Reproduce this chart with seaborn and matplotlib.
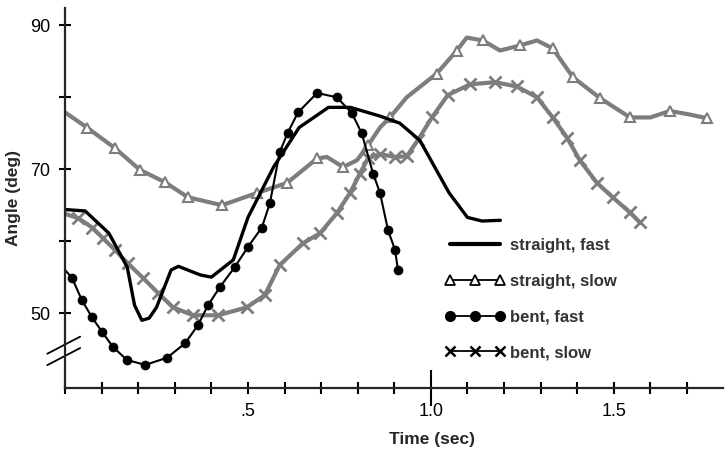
import numpy as np
import pandas as pd
import seaborn as sns
import matplotlib
matplotlib.use("Agg")
import matplotlib.pyplot as plt
from matplotlib.lines import Line2D
from matplotlib.ticker import MultipleLocator, FixedLocator

# values (time in sec, angle in deg)
sf_t = [0, 0.055, 0.12, 0.17, 0.19, 0.21, 0.23, 0.25, 0.29, 0.31, 0.37, 0.40, 0.46, 0.50,
        0.57, 0.64, 0.72, 0.78, 0.86, 0.915, 0.97, 1.005, 1.05, 1.10, 1.14, 1.19]
sf_a = [64.4, 64.2, 61.1, 56.4, 51.1, 49.0, 49.3, 50.8, 56.0, 56.5, 55.3, 55.0, 57.4, 63.3,
        70.3, 75.8, 78.6, 78.6, 77.4, 76.4, 74.0, 70.8, 66.7, 63.3, 62.8, 62.9]

ss_t = [0, 0.06, 0.137, 0.205, 0.273, 0.336, 0.429, 0.525, 0.607, 0.689, 0.716, 0.76, 0.798,
        0.828, 0.861, 0.888, 0.934, 1.016, 1.071, 1.098, 1.142, 1.189, 1.243, 1.29, 1.333,
        1.388, 1.462, 1.544, 1.60, 1.653, 1.708, 1.754]
ss_a = [77.9, 75.8, 72.9, 69.9, 68.2, 66.1, 65.0, 66.7, 68.1, 71.5, 71.7, 70.3, 71.25,
        73.3, 75.8, 77.2, 80.0, 83.3, 86.5, 88.3, 87.9, 86.5, 87.2, 87.9, 86.8,
        82.8, 79.9, 77.2, 77.2, 78.1, 77.6, 77.1]

bf_t = [0, 0.019, 0.046, 0.074, 0.101, 0.131, 0.169, 0.219, 0.279, 0.328, 0.363, 0.391, 0.423,
        0.464, 0.50, 0.538, 0.56, 0.587, 0.609, 0.637, 0.689, 0.743, 0.784, 0.811, 0.842,
        0.861, 0.883, 0.902, 0.91]
bf_a = [56.0, 54.9, 51.8, 49.4, 47.4, 45.3, 43.5, 42.8, 43.8, 45.8, 48.3, 51.1, 53.6,
        56.4, 59.2, 61.9, 65.3, 72.4, 75.1, 77.9, 80.6, 80.0, 77.8, 75.0, 69.4,
        66.7, 61.5, 58.8, 56.0]

bs_t = [0, 0.036, 0.074, 0.104, 0.137, 0.172, 0.213, 0.254, 0.295, 0.35, 0.418, 0.497, 0.546,
        0.587, 0.65, 0.697, 0.743, 0.779, 0.806, 0.828, 0.861, 0.902, 0.934, 0.964, 1.003,
        1.046, 1.107, 1.175, 1.235, 1.29, 1.333, 1.372, 1.407, 1.454, 1.497, 1.544, 1.571]
bs_a = [63.8, 63.2, 61.9, 60.4, 58.75, 56.9, 54.9, 52.8, 50.8, 49.7, 49.7, 50.8, 52.5,
        56.7, 59.7, 61.1, 63.9, 66.7, 69.4, 71.5, 72.1, 71.7, 71.8, 74.0, 77.2,
        80.3, 81.8, 82.1, 81.5, 80.0, 77.2, 74.4, 71.25, 68.1, 66.1, 64.0, 62.6]

labels = ["straight, fast", "straight, slow", "bent, fast", "bent, slow"]
x_ticks = [0.5, 1.0, 1.5]
x_ticklabels = [".5", "1.0", "1.5"]
y_ticks = [50, 70, 90]

gray = "#7d7d7d"

sns.set_style("ticks")
plt.rcParams['font.family'] = ['Liberation Sans', 'DejaVu Sans']

fig = plt.figure(figsize=(7.25, 4.49), dpi=100)
ax = fig.add_axes([0.0897, 0.136, 0.9073, 0.846])

# straight, slow  (gray, open triangles)
sns.lineplot(data=pd.DataFrame({"t": ss_t, "a": ss_a}), x="t", y="a", ax=ax, color=gray,
             lw=3, marker="^", ms=7, mfc="white", mec=gray, mew=1.5,
             markevery=[1, 2, 3, 4, 5, 6, 7, 8, 9, 11, 13, 15, 17, 18, 20, 22, 24, 25, 26, 27, 29, 31])
# bent, slow  (gray, crosses)
sns.lineplot(data=pd.DataFrame({"t": bs_t, "a": bs_a}), x="t", y="a", ax=ax, color=gray,
             lw=3, marker="x", ms=8, mec=gray, mew=2, markevery=slice(1, None))
# straight, fast (black solid)
sns.lineplot(data=pd.DataFrame({"t": sf_t, "a": sf_a}), x="t", y="a", ax=ax, color="black",
             lw=2.4)
# bent, fast (black, dots)
sns.lineplot(data=pd.DataFrame({"t": bf_t, "a": bf_a}), x="t", y="a", ax=ax, color="black",
             lw=1.5, marker="o", ms=6.5, mec="black", mfc="black", mew=0.5,
             markevery=slice(1, None))

ax.set_xlim(0, 1.798)
ax.set_ylim(39.6, 92.4)
sns.despine(ax=ax)
for s in ["left", "bottom"]:
    ax.spines[s].set_linewidth(1.6)

ax.xaxis.set_major_locator(FixedLocator(x_ticks))
ax.set_xticklabels(x_ticklabels)
ax.xaxis.set_minor_locator(MultipleLocator(0.1))
ax.yaxis.set_major_locator(FixedLocator(y_ticks))
ax.yaxis.set_minor_locator(FixedLocator([60, 80]))
ax.tick_params(which="both", direction="inout", width=1.5, colors="black",
               labelsize=13, pad=6)
ax.tick_params(which="major", length=9)
ax.tick_params(which="minor", length=8)
# the 1.0 tick is drawn long
ax.xaxis.get_major_ticks()[1].tick1line.set_markersize(26)

ax.set_xlabel("Time (sec)", fontsize=12.5, fontweight="bold")
ax.xaxis.set_label_coords((432 - 65) / 658, -0.115)
ax.set_ylabel("Angle (deg)", fontsize=12.5, fontweight="bold")
ax.yaxis.set_label_coords(-0.067, 0.5)

# axis break marks
for off in [0.0, -0.03]:
    ax.plot([-0.027, 0.023], [0.09 + off, 0.135 + off], transform=ax.transAxes,
            color="black", lw=1.3, clip_on=False)

handles = [
    Line2D([], [], color="black", lw=3),
    Line2D([], [], color="black", lw=1.3, marker="^", ms=7, mfc="white", mec="black", mew=1.3),
    Line2D([], [], color="black", lw=1.3, marker="o", ms=7),
    Line2D([], [], color="black", lw=1.3, marker="x", ms=7, mew=1.8),
]
leg = ax.legend(handles, labels, loc="upper left", bbox_to_anchor=(0.555, 0.435),
                frameon=False, numpoints=3, handlelength=3.6, handletextpad=0.3,
                labelspacing=1.25, prop={"size": 12, "weight": "bold"})
for txt in leg.get_texts():
    txt.set_color("#333333")

fig.savefig("out.png", dpi=100)
